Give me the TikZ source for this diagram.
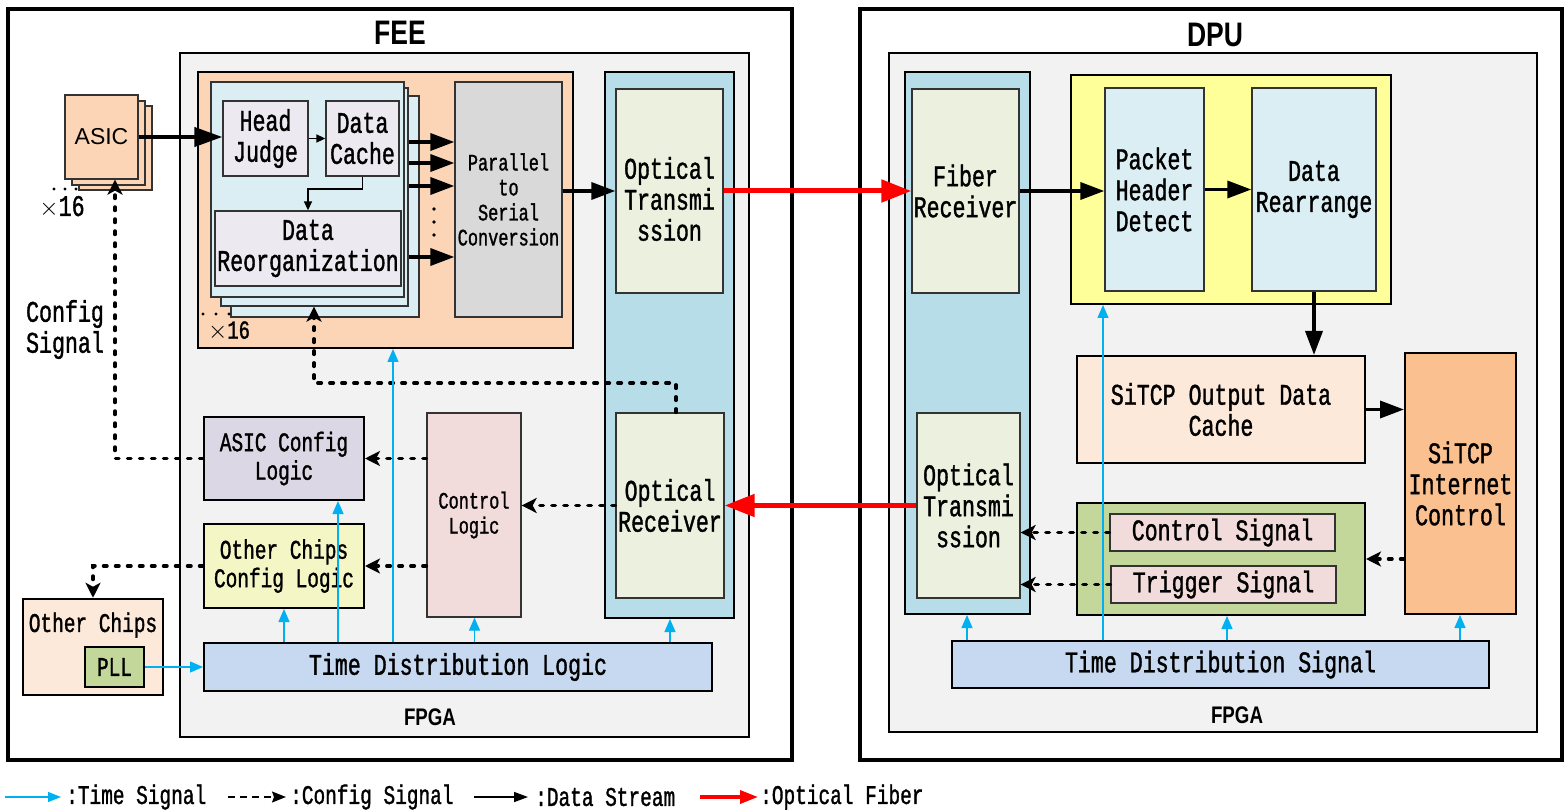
\documentclass[tikz,border=0pt]{standalone}
\usepackage{fontspec}
\usetikzlibrary{arrows.meta}
\newfontfamily\monof[FakeStretch=0.72,FakeBold=1.2]{Liberation Mono}
\newfontfamily\titlef[FakeStretch=0.78]{Liberation Sans Bold}
\newfontfamily\asicf{Liberation Sans}
\newcommand\txtM{\monof\fontsize{30}{31}\selectfont}
\newcommand\txtS{\monof\fontsize{27}{28.5}\selectfont}
\newcommand\txtX{\monof\fontsize{23.5}{25}\selectfont}
\newcommand\timesA{{\fontsize{34}{34}\selectfont$\times$}}
% box from corners: style, x1, y1, x2, y2, name
\newcommand\mkbox[6]{\node[#1, minimum width={(#4)*1pt-(#2)*1pt}, minimum height={(#5)*1pt-(#3)*1pt}] (#6) at ({(#2+#4)/2},{(#3+#5)/2})}
\definecolor{fpgagray}{HTML}{F2F2F2}
\definecolor{peach}{HTML}{FBD5B5}
\definecolor{cardblue}{HTML}{DAEEF3}
\definecolor{lav}{HTML}{ECEAF0}
\definecolor{ptsgray}{HTML}{D9D9D9}
\definecolor{colblue}{HTML}{B7DDE8}
\definecolor{optgreen}{HTML}{EBF1DE}
\definecolor{pinkc}{HTML}{F2DCDB}
\definecolor{lavtwo}{HTML}{DCD7E4}
\definecolor{ltyellow}{HTML}{F4F6C6}
\definecolor{peachlt}{HTML}{FDE9D9}
\definecolor{greenc}{HTML}{C4D79B}
\definecolor{tdblue}{HTML}{C6D9F0}
\definecolor{yellowc}{HTML}{FFFF99}
\definecolor{orangetwo}{HTML}{FAC090}
\definecolor{tblue}{HTML}{00B0F0}
\begin{document}
\begin{tikzpicture}[x=1pt,y=-1pt,
  bx/.style={draw=black!80, line width=1.3pt, inner sep=0pt, align=center, font=\txtM},
  ctr/.style={draw=black, line width=2pt, inner sep=0pt, align=center, font=\txtM},
  frame/.style={draw=black, line width=3.5pt, inner sep=0pt},
  fpga/.style={draw=black, line width=2.5pt, inner sep=0pt, fill=fpgagray},
  lbl/.style={inner sep=0pt, align=center, font=\txtM},
  data/.style={line width=3.5pt, -{Triangle[length=24pt,width=17pt]}},
  bigdata/.style={line width=4pt, -{Triangle[length=28pt,width=19pt]}},
  thin/.style={line width=1.5pt, -{Triangle[length=9pt,width=8pt]}},
  cfg/.style={line width=3.5pt, line cap=round, dash pattern=on 3.5pt off 8.5pt, -{Stealth[length=15pt,width=15pt,inset=4pt]}},
  fiber/.style={line width=5pt, draw=red, -{Triangle[length=30pt,width=22pt]}},
  timesig/.style={line width=1.3pt, draw=tblue, -{Triangle[length=13pt,width=11pt]}}
]
\useasboundingbox (0,0) rectangle (1564,810);

% frames
\mkbox{frame}{8}{9}{792}{760}{fee} {};
\mkbox{frame}{860}{9}{1562}{760}{dpu} {};
\mkbox{fpga}{180}{53}{749}{737}{feefpga} {};
\mkbox{fpga}{889}{53}{1537}{732}{dpufpga} {};
\node[font=\titlef\fontsize{34}{34}\selectfont, inner sep=0pt] (feetitle) at (400,33) {FEE};
\node[font=\titlef\fontsize{34}{34}\selectfont, inner sep=0pt] (dputitle) at (1215,35) {DPU};
\node[font=\titlef\fontsize{24}{24}\selectfont, inner sep=0pt] (fpgaone) at (430,717) {FPGA};
\node[font=\titlef\fontsize{24}{24}\selectfont, inner sep=0pt] (fpgatwo) at (1237,715) {FPGA};

% ASIC stack
\mkbox{bx, fill=peach}{79}{106}{152}{190}{asicc} {};
\mkbox{bx, fill=peach}{72}{101}{145}{185}{asicb} {};
\mkbox{bx, fill=peach, font=\asicf\fontsize{23}{23}\selectfont}{65}{95}{138}{179}{asic} {ASIC};
\fill (54,189) circle (1.6pt) (65,189) circle (1.6pt) (76,189) circle (1.6pt);
\node[lbl] (xa) at (62,207) {\timesA16};
\node[lbl] (cfgtxt) at (65,329.5) {Config\\Signal};

% FEE data path
\mkbox{ctr, fill=peach}{198}{72}{573}{348}{orange} {};
\mkbox{bx, fill=cardblue}{231}{96}{419}{317}{cardc} {};
\mkbox{bx, fill=cardblue}{221}{88}{408}{306}{cardb} {};
\mkbox{bx, fill=cardblue}{211}{82}{404}{297}{carda} {};
\fill (203,314) circle (1.6pt) (216,314) circle (1.6pt) (229,314) circle (1.6pt);
\node[lbl, font=\monof\fontsize{26}{26}\selectfont] (xb) at (229,331) {{\fontsize{30}{30}\selectfont$\times$}16};
\mkbox{bx, fill=lav}{223}{101}{308}{176}{hj} {Head\\Judge};
\mkbox{bx, fill=lav}{326}{101}{399}{176}{dc} {Data\\Cache};
\mkbox{bx, fill=lav}{215}{211}{401}{286}{dreorg} {Data\\Reorganization};
\mkbox{bx, fill=ptsgray, font=\txtX}{455}{82}{562}{317}{pts} {Parallel\\to\\Serial\\Conversion};
\mkbox{ctr, fill=colblue}{605}{72}{734}{618}{colone} {};
\mkbox{bx, fill=optgreen}{616}{89}{723}{293}{ot} {};
\node[lbl] (ottxt) at (669.5,199) {Optical\\Transmi\\ssion};
\mkbox{bx, fill=optgreen}{616}{413}{724}{598}{orx} {Optical\\Receiver};
\mkbox{bx, fill=pinkc, font=\txtX}{427}{413}{521}{617}{ctrl} {Control\\Logic};
\mkbox{ctr, fill=lavtwo, font=\txtS}{204}{417}{364}{500}{acfg} {ASIC Config\\Logic};
\mkbox{ctr, fill=ltyellow, font=\txtS}{204}{524}{364}{608}{occ} {Other Chips\\Config Logic};
\mkbox{ctr, line width=2.5pt, fill=peachlt}{23}{599}{163}{695}{ochips} {};
\node[lbl, font=\txtS] (ochipstxt) at (93,625) {Other Chips};
\mkbox{ctr, fill=greenc, font=\txtS}{85}{647}{144}{687}{pll} {PLL};
\mkbox{ctr, fill=tdblue}{204}{643}{712}{691}{tdl} {Time Distribution Logic};

% DPU blocks
\mkbox{ctr, fill=colblue}{905}{72}{1030}{614}{coltwo} {};
\mkbox{bx, fill=optgreen}{912}{89}{1019}{293}{fr} {Fiber\\Receiver};
\mkbox{bx, fill=optgreen}{917}{413}{1020}{598}{ottwo} {Optical\\Transmi\\ssion};
\mkbox{ctr, fill=yellowc}{1071}{75}{1391}{304}{yel} {};
\mkbox{bx, fill=cardblue}{1105}{88}{1204}{291}{phd} {Packet\\Header\\Detect};
\mkbox{bx, fill=cardblue}{1252}{88}{1376}{291}{drr} {Data\\Rearrange};
\mkbox{ctr, fill=peachlt}{1077}{356}{1365}{463}{sout} {SiTCP Output Data\\Cache};
\mkbox{ctr, fill=orangetwo}{1405}{353}{1516}{614}{ic} {SiTCP\\Internet\\Control};
\mkbox{ctr, fill=greenc}{1077}{503}{1365}{615}{grn} {};
\mkbox{bx, fill=pinkc}{1110}{514}{1335}{551}{cs} {Control Signal};
\mkbox{bx, fill=pinkc}{1111}{566}{1336}{603}{ts} {Trigger Signal};
\mkbox{ctr, fill=tdblue}{952}{641}{1489}{688}{tds} {Time Distribution Signal};

% coordinates
\coordinate (ca) at (115,0);
\coordinate (ka) at (676,383);
\coordinate (kb) at (314,383);
\coordinate (kc) at (0,189);
\coordinate (da) at (409,142);
\coordinate (db) at (409,163);
\coordinate (dd) at (409,186);
\coordinate (de) at (409,257);
\coordinate (ta) at (284,0);
\coordinate (tb) at (338,0);
\coordinate (tc) at (393,0);
\coordinate (td) at (474.5,0);
\coordinate (te) at (670,0);
\coordinate (tf) at (967,0);
\coordinate (tg) at (1103,0);
\coordinate (th) at (1227,0);
\coordinate (ti) at (1460,0);

% data stream
\draw[bigdata] (asic.east) -- (hj.west |- asic.east);
\draw[thin] (hj.east) -- (dc.west);
\draw[thin] (dc.south) -- (dc.south |- kc) -| (dreorg.north);
\draw[data] (da) -- (pts.west |- da);
\draw[data] (db) -- (pts.west |- db);
\draw[data] (dd) -- (pts.west |- dd);
\draw[data] (de) -- (pts.west |- de);
\fill (434,209) circle (1.8pt) (434,222) circle (1.8pt) (434,235) circle (1.8pt);
\draw[data] (pts.east |- ot.west) -- (ot.west);
\draw[data] (fr.east) -- (phd.west |- fr.east);
\draw[data] (phd.east) -- (drr.west);
\draw[data] (drr.south) -- (sout.north -| drr.south);
\draw[data] (sout.east) -- (ic.west |- sout.east);

% optical fiber
\draw[fiber] (ot.east) -- (fr.west |- ot.east);
\draw[fiber] (ottwo.west) -- (orx.east |- ottwo.west);

% config
\draw[cfg] (ctrl.west |- acfg.east) -- (acfg.east);
\draw[cfg] (ctrl.west |- occ.east) -- (occ.east);
\draw[cfg] (orx.west) -- (ctrl.east |- orx.west);
\draw[cfg] (acfg.west) -| (asic.south -| ca);
\draw[cfg] (occ.west) -| (ochips.north);
\draw[cfg] (orx.north -| ka) -- (ka) -- (kb) -- (cardb.south -| kb);
\draw[cfg] (ic.west |- grn.east) -- (grn.east);
\draw[cfg] (cs.west) -- (ottwo.east |- cs.west);
\draw[cfg] (ts.west) -- (ottwo.east |- ts.west);

% time signal
\draw[timesig] (pll.east) -- (tdl.west |- pll.east);
\draw[timesig] (tdl.north -| ta) -- (occ.south -| ta);
\draw[timesig] (tdl.north -| tb) -- (acfg.south -| tb);
\draw[timesig] (tdl.north -| tc) -- (orange.south -| tc);
\draw[timesig] (tdl.north -| td) -- (ctrl.south -| td);
\draw[timesig] (tdl.north -| te) -- (colone.south -| te);
\draw[timesig] (tds.north -| tf) -- (coltwo.south -| tf);
\draw[timesig] (tds.north -| tg) -- (yel.south -| tg);
\draw[timesig] (tds.north -| th) -- (grn.south -| th);
\draw[timesig] (tds.north -| ti) -- (ic.south -| ti);

% legend
\coordinate (la) at (5,797);
\coordinate (lb) at (61,797);
\coordinate (lc) at (228,797);
\coordinate (ld) at (286,797);
\coordinate (le) at (474,797);
\coordinate (lf) at (528,797);
\coordinate (lg) at (700,797);
\coordinate (lh) at (758,797);
\draw[line width=1.3pt, draw=tblue, -{Triangle[length=13pt,width=10pt]}] (la) -- (lb);
\node[lbl, font=\txtS, anchor=west] (lta) at (66,797) {:Time Signal};
\draw[line width=1.5pt, dash pattern=on 7pt off 5pt, -{Stealth[length=14pt,width=11pt,inset=2pt]}] (lc) -- (ld);
\node[lbl, font=\txtS, anchor=west] (ltb) at (290,797) {:Config Signal};
\draw[line width=1.5pt, -{Triangle[length=14pt,width=10pt]}] (le) -- (lf);
\node[lbl, font=\txtS, anchor=west] (ltc) at (535,797) {:Data Stream};
\draw[line width=3.5pt, draw=red, -{Triangle[length=18pt,width=13pt]}] (lg) -- (lh);
\node[lbl, font=\txtS, anchor=west] (ltd) at (760,797) {:Optical Fiber};
\end{tikzpicture}
\end{document}
